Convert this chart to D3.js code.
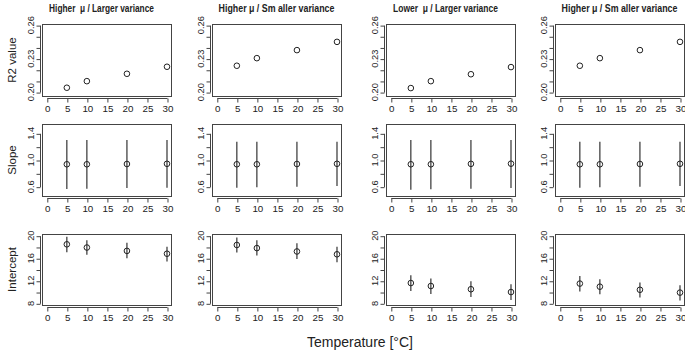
<!DOCTYPE html>
<html>
<head>
<meta charset="utf-8">
<script src="https://cdn.jsdelivr.net/npm/d3@7"></script>
<style>
  body { margin: 0; background: #fff; }
  text { font-family: "Liberation Sans", Arial, sans-serif; fill: #222; }
</style>
</head>
<body>
<script>
// Chart values
const temps = [5, 10, 20, 30];
const panelTitles = ["Higher  μ / Larger variance", "Higher μ / Sm aller variance", "Lower  μ / Larger variance", "Higher μ / Sm aller variance"];
const rowLabels = ["R2 value", "Slope", "Intercept"];
const xTicks = [0, 5, 10, 15, 20, 25, 30];

const r2Ticks = [0.20, 0.21, 0.22, 0.23, 0.24, 0.25, 0.26];
const r2Labels = [0.20, 0.23, 0.26];
const slopeTicks = [0.6, 0.8, 1.0, 1.2, 1.4];
const slopeLabels = [0.6, 1.0, 1.4];
const interceptTicks = [8, 10, 12, 14, 16, 18, 20];
const interceptLabels = [8, 12, 16, 20];

const r2Values = [
  [0.2039, 0.2098, 0.2164, 0.2227],
  [0.2236, 0.2304, 0.2376, 0.2450],
  [0.2036, 0.2098, 0.2160, 0.2224],
  [0.2236, 0.2304, 0.2376, 0.2450]
];
const slopeMean = [
  [0.936, 0.936, 0.940, 0.943],
  [0.936, 0.936, 0.940, 0.943],
  [0.936, 0.936, 0.942, 0.945],
  [0.936, 0.936, 0.940, 0.943]
];
const slopeLow = [
  [0.565, 0.570, 0.580, 0.585],
  [0.585, 0.590, 0.600, 0.610],
  [0.555, 0.560, 0.570, 0.580],
  [0.585, 0.590, 0.600, 0.610]
];
const slopeHigh = [
  [1.300, 1.300, 1.300, 1.300],
  [1.275, 1.275, 1.275, 1.275],
  [1.300, 1.300, 1.300, 1.300],
  [1.275, 1.275, 1.275, 1.275]
];
const interceptMean = [
  [18.47, 17.90, 17.30, 16.80],
  [18.35, 17.80, 17.20, 16.70],
  [11.60, 11.07, 10.50, 10.00],
  [11.50, 10.95, 10.40, 9.90]
];
const interceptLow = [
  [17.05, 16.60, 16.00, 15.40],
  [17.00, 16.50, 15.85, 15.30],
  [10.20, 9.65, 9.10, 8.60],
  [10.10, 9.60, 9.05, 8.50]
];
const interceptHigh = [
  [19.80, 19.20, 18.75, 18.05],
  [19.70, 19.20, 18.65, 18.05],
  [13.00, 12.40, 11.90, 11.40],
  [12.85, 12.25, 11.70, 11.20]
];

// Layout
const W = 685, H = 353;
const colLeft = [42, 212, 386, 555];
const boxW = 129;
const rows = [
  { top: 24, h: 72, domain: [0.1965, 0.261], ticks: r2Ticks, labels: r2Labels, fmt: d3.format(".2f") },
  { top: 124, h: 72, domain: [0.46, 1.54], ticks: slopeTicks, labels: slopeLabels, fmt: d3.format(".1f") },
  { top: 234, h: 71, domain: [7.7, 20.3], ticks: interceptTicks, labels: interceptLabels, fmt: d3.format("d") }
];
const axisColor = "#444";

const svg = d3.select("body").append("svg")
  .attr("width", W)
  .attr("height", H);

rows.forEach((row, ri) => {
  // Row label on the left
  svg.append("text")
    .attr("transform", `translate(${16},${row.top + row.h / 2}) rotate(-90)`)
    .attr("text-anchor", "middle")
    .attr("font-size", 11.5)
    .text(rowLabels[ri]);

  colLeft.forEach((left, ci) => {
    const x = d3.scaleLinear().domain([-1.2, 31.0]).range([left, left + boxW]);
    const y = d3.scaleLinear().domain(row.domain).range([row.top + row.h, row.top]);
    const g = svg.append("g");

    // Plot box
    g.append("rect")
      .attr("x", left + 0.5).attr("y", row.top + 0.5)
      .attr("width", boxW).attr("height", row.h)
      .attr("fill", "none").attr("stroke", axisColor).attr("stroke-width", 1);

    // x axis
    const xAxis = g.append("g")
      .attr("transform", `translate(0.5,${row.top + row.h + 2.5})`)
      .call(d3.axisBottom(x).tickValues(xTicks).tickSize(4).tickPadding(3).tickSizeOuter(0));
    xAxis.select(".domain").attr("stroke", axisColor)
      .attr("d", `M${x(0)},0H${x(30)}`);
    xAxis.selectAll(".tick line").attr("stroke", axisColor);
    xAxis.selectAll(".tick text")
      .attr("font-size", 9.8).attr("font-family", "Liberation Sans, Arial, sans-serif").attr("fill", "#222");

    // y axis
    const yAxis = g.append("g")
      .attr("transform", `translate(${left - 1.5},0.5)`)
      .call(d3.axisLeft(y).tickValues(row.ticks).tickSize(4).tickFormat("").tickSizeOuter(0));
    yAxis.select(".domain").attr("stroke", axisColor)
      .attr("d", `M0,${y(row.ticks[0])}V${y(row.ticks[row.ticks.length - 1])}`);
    yAxis.selectAll(".tick line").attr("stroke", axisColor);

    g.selectAll(".ylab")
      .data(row.labels)
      .enter().append("text")
      .attr("class", "ylab")
      .attr("transform", d => `translate(${left - 8.5},${y(d)}) rotate(-90)`)
      .attr("text-anchor", "middle")
      .attr("font-size", 9.3)
      .text(d => row.fmt(d));

    // Data
    if (ri === 0) {
      g.selectAll("circle")
        .data(temps.map((t, i) => ({ t, v: r2Values[ci][i] })))
        .enter().append("circle")
        .attr("cx", d => x(d.t)).attr("cy", d => y(d.v)).attr("r", 2.8)
        .attr("fill", "none").attr("stroke", "#222").attr("stroke-width", 1);
    } else {
      const mean = ri === 1 ? slopeMean : interceptMean;
      const low = ri === 1 ? slopeLow : interceptLow;
      const high = ri === 1 ? slopeHigh : interceptHigh;
      const pts = temps.map((t, i) => ({ t, m: mean[ci][i], lo: low[ci][i], hi: high[ci][i] }));
      g.selectAll("line.err")
        .data(pts)
        .enter().append("line")
        .attr("class", "err")
        .attr("x1", d => x(d.t)).attr("x2", d => x(d.t))
        .attr("y1", d => y(d.lo)).attr("y2", d => y(d.hi))
        .attr("stroke", "#333").attr("stroke-width", 1.2);
      g.selectAll("circle")
        .data(pts)
        .enter().append("circle")
        .attr("cx", d => x(d.t)).attr("cy", d => y(d.m)).attr("r", 2.8)
        .attr("fill", "none").attr("stroke", "#222").attr("stroke-width", 1);
    }

    // Panel title on the top row, squeezed horizontally like the original
    if (ri === 0) {
      const larger = panelTitles[ci].includes("Larger");
      const cx = Math.min(left + boxW / 2 - (larger ? 5 : 0), W - 63);
      const target = larger ? 105 : 116;
      const t = svg.append("text")
        .attr("text-anchor", "middle")
        .attr("font-size", 10)
        .attr("font-weight", "bold")
        .attr("xml:space", "preserve")
        .text(panelTitles[ci]);
      const k = target / t.node().getComputedTextLength();
      t.attr("transform", `translate(${cx},12) scale(${k},1)`);
    }
  });
});

// Shared x axis label
svg.append("text")
  .attr("x", 360)
  .attr("y", 347)
  .attr("text-anchor", "middle")
  .attr("font-size", 14)
  .text("Temperature [°C]");
</script>
</body>
</html>
